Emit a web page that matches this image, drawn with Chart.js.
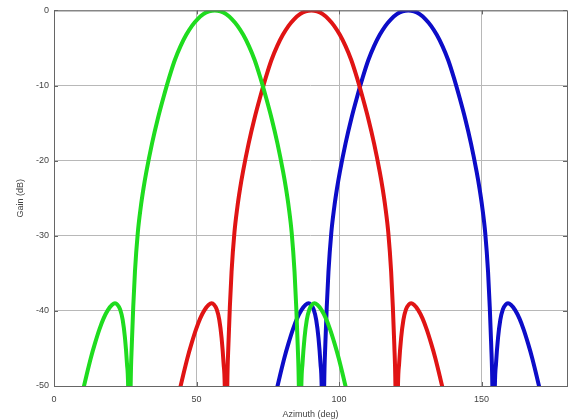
<!DOCTYPE html>
<html>
<head>
<meta charset="utf-8">
<script src="https://cdn.jsdelivr.net/npm/chart.js@4"></script>
<style>
  html, body { margin: 0; padding: 0; background: #fff; }
  #wrap { width: 572px; height: 420px; }
</style>
</head>
<body>
<div id="wrap"><canvas id="beams"></canvas></div>
<script>
// gain, same lobe shape for all three beams (dB)
// -70 marks the nulls, they fall below the axis
const beamGain = [
  -53.5, -51, -48.6, -46.3, -44.3, -42.5, -41.0, -39.9, -39.2, -39.0, -39.15, -39.8, -41.2, -43.6, -47, -52, -70,
  -50, -44.5, -39.5, -34.8, -29.6, -26.3, -23.7, -21.5, -17.7, -14.45, -11.6, -8.95, -6.6, -4.75, -3.25, -2.05, -1.15, -0.5, -0.12,
  0,
  -0.12, -0.5, -1.15, -2.05, -3.25, -4.75, -6.6, -8.95, -11.6, -14.45, -17.7, -21.5, -23.7, -26.3, -29.6, -34.8, -39.5, -44.5, -50,
  -70, -52, -47, -43.6, -41.2, -39.8, -39.15, -39.0, -39.2, -39.9, -41.0, -42.5, -44.3, -46.3, -48.6, -51, -53.5
]

// azimuth (deg) of each point, per beam
const greenAz = [
  8.4, 9.9, 11.4, 12.9, 14.4, 15.9, 17.4, 18.9, 20.4, 21.4, 22.2, 23.2, 24.1, 24.9, 25.6, 26.1, 26.4,
  26.9, 27.3, 27.8, 28.4, 29.4, 30.4, 31.4, 32.4, 34.4, 36.4, 38.4, 40.4, 42.4, 44.4, 46.4, 48.4, 50.4, 52.4, 54.4,
  56.4,
  58.4, 60.4, 62.4, 64.4, 66.4, 68.4, 70.4, 72.4, 74.4, 76.4, 78.4, 80.4, 81.4, 82.4, 83.4, 84.4, 85.0, 85.5, 85.9,
  86.4, 86.7, 87.2, 87.9, 88.7, 89.6, 90.6, 91.4, 92.4, 93.9, 95.4, 96.9, 98.4, 99.9, 101.4, 102.9, 104.4
]
const redAz = [
  42.3, 43.8, 45.3, 46.8, 48.3, 49.8, 51.3, 52.8, 54.3, 55.3, 56.1, 57.1, 58.0, 58.8, 59.5, 60.0, 60.3,
  60.8, 61.2, 61.7, 62.3, 63.3, 64.3, 65.3, 66.3, 68.3, 70.3, 72.3, 74.3, 76.3, 78.3, 80.3, 82.3, 84.3, 86.3, 88.3,
  90.3,
  92.3, 94.3, 96.3, 98.3, 100.3, 102.3, 104.3, 106.3, 108.3, 110.3, 112.3, 114.3, 115.3, 116.3, 117.3, 118.3, 118.9, 119.4, 119.8,
  120.3, 120.6, 121.1, 121.8, 122.6, 123.5, 124.5, 125.3, 126.3, 127.8, 129.3, 130.8, 132.3, 133.8, 135.3, 136.8, 138.3
]
const blueAz = [
  76.3, 77.8, 79.3, 80.8, 82.3, 83.8, 85.3, 86.8, 88.3, 89.3, 90.1, 91.1, 92.0, 92.8, 93.5, 94.0, 94.3,
  94.8, 95.2, 95.7, 96.3, 97.3, 98.3, 99.3, 100.3, 102.3, 104.3, 106.3, 108.3, 110.3, 112.3, 114.3, 116.3, 118.3, 120.3, 122.3,
  124.3,
  126.3, 128.3, 130.3, 132.3, 134.3, 136.3, 138.3, 140.3, 142.3, 144.3, 146.3, 148.3, 149.3, 150.3, 151.3, 152.3, 152.9, 153.4, 153.8,
  154.3, 154.6, 155.1, 155.8, 156.6, 157.5, 158.5, 159.3, 160.3, 161.8, 163.3, 164.8, 166.3, 167.8, 169.3, 170.8, 172.3
]

const xTicks = [0, 50, 100, 150]
const yTicks = [0, -10, -20, -30, -40, -50]

function pts(az, gain) {
  return az.map((a, i) => ({ x: a, y: gain[i] }))
}

function beam(az, color) {
  return {
    data: pts(az, beamGain),
    borderColor: color,
    borderWidth: 4,
    pointRadius: 0,
    fill: false,
    cubicInterpolationMode: "monotone"
  }
}

// box round the plot with small inward ticks, matlab style
const frame = {
  id: "frame",
  afterDraw(chart) {
    const { ctx, chartArea: a, scales } = chart
    ctx.save()
    ctx.strokeStyle = "#666"
    ctx.lineWidth = 1
    ctx.strokeRect(a.left + 0.5, a.top + 0.5, a.right - a.left, a.bottom - a.top)
    ctx.beginPath()
    xTicks.forEach(t => {
      const x = Math.round(scales.x.getPixelForValue(t)) + 0.5
      ctx.moveTo(x, a.bottom); ctx.lineTo(x, a.bottom - 4)
      ctx.moveTo(x, a.top); ctx.lineTo(x, a.top + 4)
    })
    yTicks.forEach(t => {
      const y = Math.round(scales.y.getPixelForValue(t)) + 0.5
      ctx.moveTo(a.left, y); ctx.lineTo(a.left + 4, y)
      ctx.moveTo(a.right, y); ctx.lineTo(a.right - 4, y)
    })
    ctx.stroke()
    ctx.restore()
  }
}

const font = { family: "Liberation Sans, Arial, sans-serif", size: 9 }
const grid = { color: "#b8b8b8", borderDash: [1, 3], drawTicks: false }

new Chart(document.getElementById("beams"), {
  type: "line",
  data: {
    datasets: [
      beam(greenAz, "#1fdc1f"),
      beam(redAz, "#e01414"),
      beam(blueAz, "#0c0cc8")
    ]
  },
  options: {
    responsive: true,
    maintainAspectRatio: false,
    animation: false,
    layout: { padding: { top: 8, right: 5, left: 0, bottom: 0 } },
    plugins: { legend: { display: false }, tooltip: { enabled: false } },
    scales: {
      x: {
        type: "linear",
        min: 0,
        max: 180,
        afterBuildTicks: s => { s.ticks = xTicks.map(v => ({ value: v })) },
        afterFit: s => { s.height = 34 },
        grid: grid,
        border: { display: false },
        ticks: { font: font, color: "#444", padding: 8 },
        title: { display: true, text: "Azimuth (deg)", font: font, color: "#444", padding: { top: 0, bottom: 0 } }
      },
      y: {
        min: -50,
        max: 0,
        afterBuildTicks: s => { s.ticks = yTicks.map(v => ({ value: v })) },
        afterFit: s => { s.width = 54 },
        grid: grid,
        border: { display: false },
        ticks: { font: font, color: "#444", padding: 5 },
        title: { display: true, text: "Gain (dB)", font: font, color: "#444", padding: { top: 15, bottom: 8 } }
      }
    }
  },
  plugins: [frame]
})
</script>
</body>
</html>
